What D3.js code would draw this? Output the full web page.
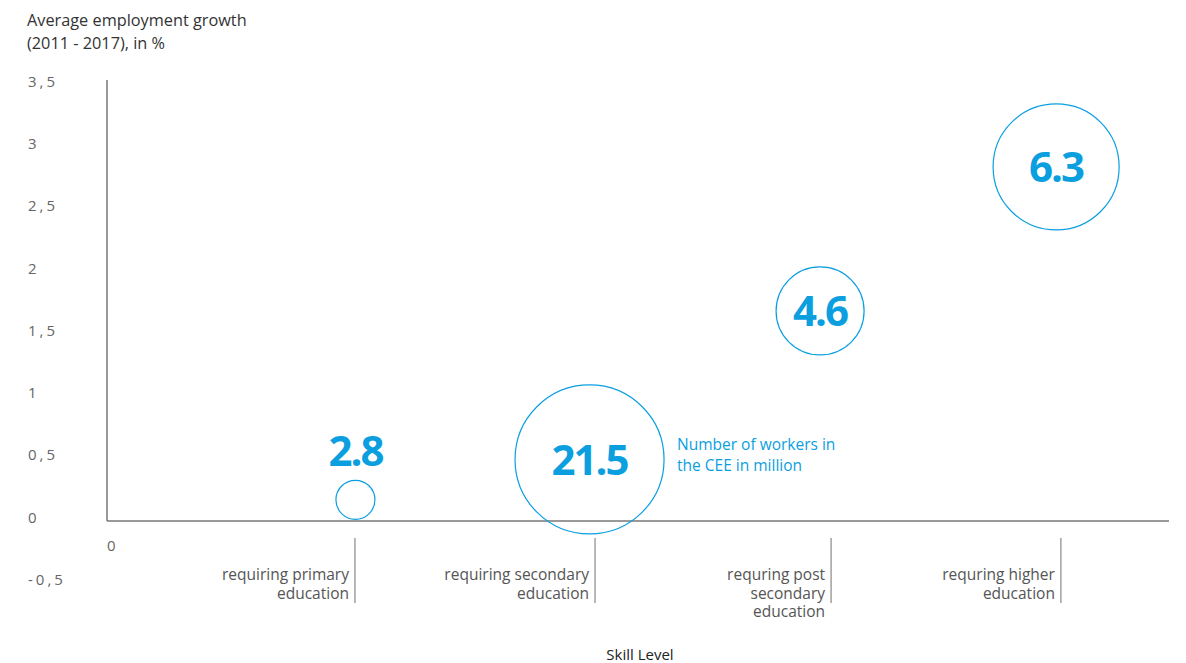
<!DOCTYPE html>
<html>
<head>
<meta charset="utf-8">
<script src="https://d3js.org/d3.v7.min.js"></script>
<style>
  body { margin: 0; background: #fff; }
  text { font-family: "Open Sans", sans-serif; }
</style>
</head>
<body>
<svg width="1186" height="663"></svg>
<script>
// skill level categories
var categories = ['requiring primary|education', 'requiring secondary|education',
                  'requring post|secondary|education', 'requring higher|education'];
var categoryX = [1.039, 2.045, 3.034, 3.997];

// bubbles: position on skill axis, avg employment growth, workers in million
var bubbleX = [1.041, 2.022, 2.988, 3.977];
var growth = [0.17, 0.494, 1.686, 2.842];
var workers = [2.8, 21.5, 4.6, 6.3];

var yTicks = [-0.5, 0, 0.5, 1, 1.5, 2, 2.5, 3, 3.5];

var svg = d3.select('svg');
var blue = '#0b9fe0';

var x = d3.scaleLinear().domain([0, 4.45]).range([107, 1169]);
var y = d3.scaleLinear().domain([0, 3.5]).range([521, 85]);
var r = d3.scaleLinear().domain([2.8, 4.6, 6.3, 21.5]).range([19.5, 44, 63, 74.5]);

// title
var title = svg.append('text')
    .attr('x', 27).attr('y', 26)
    .attr('font-size', 16.3).attr('fill', '#333');
title.append('tspan').text('Average employment growth');
title.append('tspan').attr('x', 27).attr('dy', 23).text('(2011 - 2017), in %');

// y tick labels
svg.selectAll('.ylab')
    .data(yTicks)
    .enter().append('text')
    .attr('class', 'ylab')
    .attr('x', 28)
    .attr('y', function(d){ return y(d) - 3.5; })
    .attr('dy', '0.35em')
    .attr('font-size', 15)
    .attr('letter-spacing', 3)
    .attr('fill', '#666')
    .text(function(d){ return String(d).replace('.', ','); });

// axes lines
svg.append('line')
    .attr('x1', x(0)).attr('x2', x(0))
    .attr('y1', y(3.5) - 5).attr('y2', y(0))
    .attr('stroke', '#777').attr('stroke-width', 1.5);
svg.append('line')
    .attr('x1', x(0)).attr('x2', x(4.45))
    .attr('y1', y(0)).attr('y2', y(0))
    .attr('stroke', '#777').attr('stroke-width', 1.5);

svg.append('text')
    .attr('x', x(0)).attr('y', 551)
    .attr('font-size', 15).attr('fill', '#666')
    .text('0');

// category ticks + labels
var cat = svg.selectAll('.cat')
    .data(categories)
    .enter().append('g')
    .attr('class', 'cat')
    .attr('transform', function(d, i){ return 'translate(' + x(categoryX[i]) + ',0)'; });
cat.append('line')
    .attr('y1', 538).attr('y2', 603)
    .attr('stroke', '#888').attr('stroke-width', 1.2);
cat.append('text')
    .attr('text-anchor', 'end')
    .attr('font-size', 15.5)
    .attr('fill', '#555')
    .each(function(d){
        var t = d3.select(this);
        d.split('|').forEach(function(line, j){
            t.append('tspan').attr('x', -6).attr('y', 580 + j * 18.5).text(line);
        });
    });

// bubbles
var b = svg.selectAll('.bubble')
    .data(workers)
    .enter().append('g')
    .attr('class', 'bubble');
b.append('circle')
    .attr('cx', function(d, i){ return x(bubbleX[i]); })
    .attr('cy', function(d, i){ return y(growth[i]); })
    .attr('r', function(d){ return r(d); })
    .attr('fill', 'none')
    .attr('stroke', blue)
    .attr('stroke-width', 1.2);
b.append('text')
    .attr('x', function(d, i){ return x(bubbleX[i]); })
    .attr('y', function(d, i){
        // small bubble gets its label above it
        var cy = y(growth[i]);
        return r(d) < 30 ? cy - r(d) - 29 : cy;
    })
    .attr('dy', '0.36em')
    .attr('text-anchor', 'middle')
    .attr('font-size', 42)
    .attr('font-weight', 'bold')
    .attr('letter-spacing', -2)
    .attr('fill', blue)
    .text(function(d){ return d3.format('.1f')(d); });

// note next to biggest bubble
var note = svg.append('text')
    .attr('x', 677).attr('y', 450)
    .attr('font-size', 15.5).attr('fill', blue);
note.append('tspan').text('Number of workers in');
note.append('tspan').attr('x', 677).attr('dy', 21).text('the CEE in million');

svg.append('text')
    .attr('x', 640).attr('y', 660)
    .attr('text-anchor', 'middle')
    .attr('font-size', 15).attr('fill', '#222')
    .text('Skill Level');
</script>
</body>
</html>
